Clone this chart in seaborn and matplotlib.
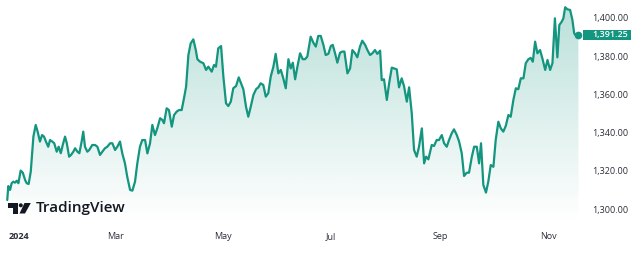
import numpy as np
import pandas as pd
import matplotlib
matplotlib.use("Agg")
import matplotlib.pyplot as plt
import matplotlib.transforms as mtransforms
from matplotlib.patches import Rectangle, Circle, Polygon
import seaborn as sns

# ---- data (day = days since 2024-01-01) ----
days = [-1.0, -0.4, 0.6, 1.5, 2.4, 3.4, 4.4, 5.3, 6.6, 7.8, 9.1, 10.0, 11.1, 12.3, 13.8,
        15.1, 16.2, 17.5, 18.7, 19.8, 20.9, 22.2, 23.2, 24.5, 25.6, 27.0, 28.1, 29.3, 30.4,
        31.7, 32.7, 34.0, 35.1, 36.4, 37.4, 38.7, 39.8, 41.1, 42.0, 43.0, 44.3, 45.4, 47.1,
        48.7, 50.0, 51.5, 52.8, 54.3, 55.6, 57.2, 58.5, 60.0, 61.3, 62.8, 64.1, 65.6, 66.9,
        68.5, 69.8, 71.3, 72.6, 74.1, 75.4, 77.0, 78.3, 79.8, 81.1, 82.6, 83.9, 85.5, 86.8,
        87.7, 89.2, 90.5, 92.1, 93.4, 94.9, 96.2, 97.7, 99.0, 100.2, 101.5, 102.8, 104.3,
        105.7, 106.6, 108.1, 110.0, 111.5, 112.8, 114.7, 116.0, 117.1, 118.4, 120.0, 121.3,
        122.8, 124.1, 125.5, 126.9, 128.5, 130.0, 131.3, 132.6, 134.1, 135.4, 136.8, 138.3,
        139.8, 141.1, 142.4, 143.9, 145.3, 146.7, 148.1, 149.6, 150.9, 152.4, 153.8, 155.2,
        156.6, 158.1, 159.4, 160.6, 161.9, 163.2, 164.7, 166.2, 167.5, 168.8, 170.7, 172.2,
        173.6, 175.0, 176.4, 177.9, 179.2, 180.7, 182.1, 183.2, 184.5, 185.8, 187.3, 188.6,
        189.8, 191.5, 193.0, 194.3, 195.8, 197.1, 198.6, 199.9, 201.5, 202.8, 204.3, 205.6,
        207.1, 208.4, 210.0, 210.9, 212.2, 213.8, 215.1, 216.6, 217.9, 219.4, 220.7, 222.2,
        223.5, 225.1, 226.4, 227.9, 229.2, 230.7, 232.0, 233.6, 234.9, 236.0, 237.3, 239.2,
        240.5, 242.0, 243.3, 244.9, 246.2, 247.7, 249.0, 250.5, 251.8, 253.4, 254.7, 256.2,
        257.5, 259.0, 260.3, 261.9, 263.2, 264.7, 266.0, 267.1, 268.4, 269.9, 271.2, 272.6,
        274.1, 275.4, 276.9, 278.3, 279.7, 281.1, 282.6, 283.9, 285.4, 286.8, 288.2, 289.6,
        291.1, 292.4, 293.9, 295.2, 296.4, 297.7, 299.0, 300.5, 301.8, 303.4, 304.7, 306.2,
        307.5, 308.9, 310.3, 311.4, 312.8, 313.7, 314.7, 316.0, 317.5, 318.8, 319.8, 320.9,
        322.2]
prices = [1304.7, 1312.0, 1310.0, 1313.5, 1314.3, 1313.8, 1314.8, 1313.5, 1320.1, 1319.0,
          1315.2, 1313.5, 1313.1, 1319.5, 1337.9, 1344.0, 1340.5, 1335.3, 1338.7, 1337.9,
          1335.3, 1332.6, 1336.1, 1335.3, 1334.4, 1330.0, 1332.6, 1329.2, 1333.5, 1337.9,
          1334.4, 1327.4, 1328.3, 1330.0, 1331.8, 1330.0, 1329.2, 1335.3, 1340.5, 1332.6,
          1330.0, 1330.9, 1333.5, 1333.5, 1332.6, 1328.3, 1330.0, 1331.8, 1332.6, 1334.4,
          1334.4, 1330.9, 1332.6, 1335.3, 1329.1, 1323.9, 1316.9, 1310.0, 1309.6, 1314.3,
          1323.9, 1332.6, 1336.1, 1336.1, 1329.1, 1334.4, 1344.0, 1338.7, 1342.2, 1347.5,
          1346.6, 1344.9, 1352.7, 1351.8, 1343.1, 1349.2, 1351.0, 1351.8, 1351.8, 1357.9,
          1364.0, 1380.6, 1386.7, 1388.8, 1383.2, 1378.4, 1377.1, 1376.3, 1372.8, 1374.5,
          1371.9, 1375.4, 1374.5, 1384.1, 1385.3, 1369.3, 1355.3, 1353.9, 1356.2, 1363.2,
          1364.4, 1368.9, 1365.8, 1362.7, 1353.6, 1348.3, 1353.6, 1359.7, 1362.7, 1363.7,
          1365.8, 1364.9, 1358.8, 1360.6, 1369.3, 1374.5, 1381.2, 1371.0, 1372.8, 1368.4,
          1363.2, 1378.4, 1373.6, 1376.6, 1367.9, 1374.5, 1381.5, 1378.4, 1378.4, 1379.8,
          1390.2, 1387.1, 1385.0, 1390.6, 1390.6, 1385.9, 1380.6, 1381.2, 1385.3, 1385.9,
          1381.5, 1376.6, 1381.8, 1382.4, 1382.4, 1371.0, 1373.6, 1383.2, 1381.5, 1379.4,
          1385.0, 1388.1, 1385.9, 1383.2, 1380.6, 1381.5, 1383.2, 1381.2, 1382.9, 1367.5,
          1367.9, 1357.1, 1365.8, 1374.0, 1373.6, 1373.1, 1363.7, 1368.4, 1364.4, 1356.2,
          1363.7, 1350.1, 1330.9, 1327.4, 1332.6, 1342.2, 1323.9, 1327.4, 1326.0, 1333.5,
          1333.0, 1336.1, 1336.1, 1338.7, 1334.4, 1332.6, 1336.1, 1339.6, 1341.7, 1338.7,
          1335.3, 1329.1, 1317.3, 1319.0, 1319.0, 1327.4, 1332.6, 1332.6, 1323.9, 1334.4,
          1312.6, 1308.6, 1314.3, 1323.0, 1322.1, 1336.1, 1345.7, 1342.2, 1340.5, 1343.5,
          1349.2, 1348.3, 1357.1, 1363.2, 1362.7, 1368.4, 1368.4, 1376.3, 1378.4, 1379.1,
          1377.1, 1387.6, 1381.5, 1383.2, 1378.9, 1372.8, 1378.0, 1372.8, 1376.3, 1399.8,
          1379.4, 1396.3, 1398.1, 1399.8, 1405.6, 1404.5, 1404.2, 1399.0, 1392.0, 1390.6,
          1391.25]
month_ticks = [0, 60, 121, 182, 244, 305]
month_labels = ["2024", "Mar", "May", "Jul", "Sep", "Nov"]
price_ticks = [1300, 1320, 1340, 1360, 1380, 1400]
last_price = 1391.25

sns.set_theme(style="white")
plt.rcParams['font.family'] = ['Open Sans', 'DejaVu Sans']

LINE = "#13957f"
TEXT = "#2a2e39"
W, H = 640, 261
fig = plt.figure(figsize=(W / 100, H / 100), dpi=100)
fig.patch.set_facecolor("white")
ax = fig.add_axes([0, 39 / H, 583 / W, 222 / H])
ax.set_facecolor("white")

df = pd.DataFrame({"day": days, "price": prices})
YMIN, YMAX = 1293.2, 1409.4
XMIN, XMAX = -5.1, 324.8

# gradient area under the line
poly = ax.fill_between(df["day"], df["price"], YMIN, facecolor="none", edgecolor="none")
rgb = matplotlib.colors.to_rgb(LINE)
grad = np.zeros((256, 1, 4))
grad[:, 0, 0], grad[:, 0, 1], grad[:, 0, 2] = rgb
grad[:, 0, 3] = np.linspace(0.0, 0.30, 256)
im = ax.imshow(grad, extent=[XMIN, XMAX, YMIN, YMAX], origin="lower",
               aspect="auto", interpolation="bilinear", zorder=1)
im.set_clip_path(poly.get_paths()[0], ax.transData)

sns.lineplot(data=df, x="day", y="price", ax=ax, color=LINE, linewidth=1.6, zorder=3)
ax.plot([days[-1]], [prices[-1]], "o", color=LINE, ms=4.5, zorder=4)

ax.set_xlim(XMIN, XMAX)
ax.set_ylim(YMIN, YMAX)
ax.set_xlabel("")
ax.set_ylabel("")
for s in ax.spines.values():
    s.set_visible(False)
ax.grid(False)

ax.set_xticks(month_ticks)
ax.set_xticklabels(month_labels)
ax.yaxis.tick_right()
ax.set_yticks(price_ticks)
ax.set_yticklabels([f"{p:,.2f}" for p in price_ticks])
ax.tick_params(axis="both", length=0, labelsize=6.5, colors=TEXT)
ax.tick_params(axis="y", pad=6.5)
ax.tick_params(axis="x", pad=7)
xl = ax.get_xticklabels()
xl[0].set_ha("left")
xl[0].set_fontweight("bold")

# last value label box
blend = mtransforms.blended_transform_factory(ax.transAxes, ax.transData)
box_h = 10 / 1.91
ax.add_patch(Rectangle((1.0, last_price - box_h / 2), 48 / 583, box_h, transform=blend,
                       facecolor=LINE, edgecolor="none", clip_on=False, zorder=5))
ax.text(1.0 + 9 / 583, last_price, f"{last_price:,.2f}", transform=blend, ha="left",
        va="center", color="white", fontsize=6.5, fontweight="semibold", zorder=6)

# TradingView logo (drawn in pixel space)
pix = mtransforms.IdentityTransform()
LOGO = "#131722"
fig.add_artist(Rectangle((7.5, H - 207.5), 10, 4.5, transform=pix, facecolor=LOGO, edgecolor="none"))
fig.add_artist(Rectangle((13, H - 213.5), 4.5, 10.5, transform=pix, facecolor=LOGO, edgecolor="none"))
fig.add_artist(Circle((20.8, H - 205.3), 2.0, transform=pix, facecolor=LOGO, edgecolor="none"))
fig.add_artist(Polygon([(24.5, H - 203), (30.8, H - 203), (25.0, H - 213.5), (19.5, H - 213.5)],
                       closed=True, transform=pix, facecolor=LOGO, edgecolor="none"))
fig.text(35.5, H - 208, "TradingView", transform=pix, ha="left", va="center",
         fontsize=11, fontweight="semibold", color=LOGO)

fig.savefig("out.png", dpi=100, facecolor="white")
